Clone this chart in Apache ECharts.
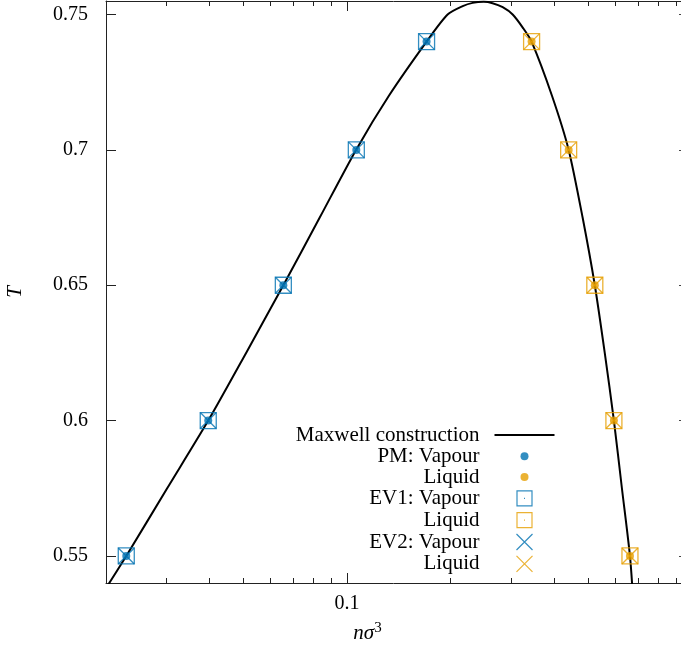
<!DOCTYPE html>
<html>
<head>
<meta charset="utf-8">
<script src="https://cdn.jsdelivr.net/npm/echarts@6/dist/echarts.min.js"></script>
<style>
  html, body { margin: 0; padding: 0; background: #fff; }
  #coexistence { width: 681px; height: 646px; }
</style>
</head>
<body>
<div id="coexistence"></div>
<script>
  // temperatures of the simulated state points
  const temps = [0.55, 0.6, 0.65, 0.7, 0.74];
  // densities n*sigma^3
  const pmVapour = [0.0229, 0.0396, 0.0654, 0.1065, 0.1703];
  const pmLiquid = [0.6627, 0.5953, 0.524, 0.44, 0.3435];
  const ev1Vapour = [0.0229, 0.0396, 0.0654, 0.1065, 0.1703];
  const ev1Liquid = [0.6627, 0.5953, 0.524, 0.44, 0.3435];
  const ev2Vapour = [0.0229, 0.0396, 0.0654, 0.1065, 0.1703];
  const ev2Liquid = [0.6627, 0.5953, 0.524, 0.44, 0.3435];

  // Maxwell construction curve
  const maxwellDensity = [0.0193, 0.0229, 0.0301, 0.0396, 0.051, 0.0654, 0.0834, 0.1063, 0.1324, 0.1703,
    0.196, 0.2168, 0.2317, 0.2494, 0.2646, 0.2832, 0.3027, 0.3245, 0.3435, 0.3936, 0.44, 0.483, 0.524,
    0.56, 0.5953, 0.628, 0.6627, 0.676];
  const maxwellT = [0.535, 0.55, 0.575, 0.6, 0.625, 0.65, 0.675, 0.7, 0.72, 0.74,
    0.75, 0.7531, 0.7543, 0.7547, 0.7542, 0.7527, 0.75, 0.745, 0.74, 0.72, 0.7, 0.675, 0.65,
    0.625, 0.6, 0.575, 0.55, 0.535];

  const xMinorTicks = [0.02, 0.03, 0.04, 0.05, 0.06, 0.07, 0.08, 0.09, 0.2, 0.3, 0.4, 0.5, 0.6, 0.7, 0.8, 0.9];
  const xMajorTicks = [0.1];
  const yTicks = [0.55, 0.6, 0.65, 0.7, 0.75];

  const blue = '#0072b2';
  const orange = '#e69f00';
  const font = 'Liberation Serif';

  const zip = (xs, ys) => xs.map((x, i) => [x, ys[i]]);

  const squarePath = 'path://M0,0H16V16H0ZM7.5,8H8.5';
  const crossPath = 'path://M0,0L16,16M16,0L0,16';
  // legend icons live in a 60x17 box (the two leading moves fix the box)
  const lineIcon = 'path://M0,0M60,17M0,8.5H60';
  const dotIcon = 'path://M0,0M60,17M26,8.5A4,4,0,1,0,34,8.5A4,4,0,1,0,26,8.5Z';
  const squareIcon = 'path://M0,0M60,17M22.5,1H37.5V16H22.5ZM29.5,8.5H30.5';
  const crossIcon = 'path://M0,0M60,17M22,0.5L38,16.5M38,0.5L22,16.5';

  const xBase = {
    type: 'log',
    logBase: 10,
    min: 0.02,
    max: 0.932,
    axisLine: { lineStyle: { color: '#222', width: 1 } },
    splitLine: { show: false }
  };

  function tickFmt(v) {
    return String(+(+v).toFixed(2));
  }

  const chart = echarts.init(document.getElementById('coexistence'));
  const option = {
    animation: false,
    backgroundColor: '#fff',
    grid: { left: 106, right: 0, top: 1, bottom: 63, containLabel: false, outerBoundsMode: 'none' },
    legend: {
      orient: 'vertical',
      align: 'right',
      right: 124,
      top: 424,
      padding: 0,
      itemWidth: 60,
      itemHeight: 17,
      itemGap: -0.2,
      selectedMode: false,
      textStyle: {
        fontFamily: font, fontSize: 21, lineHeight: 21, color: '#000', padding: [0, 10, 0, 0]
      },
      formatter: name => (name.indexOf('Liquid') >= 0 ? 'Liquid' : name),
      data: [
        { name: 'Maxwell construction', icon: lineIcon, itemStyle: { color: 'none', borderColor: '#000', borderWidth: 2 } },
        { name: 'PM: Vapour', icon: dotIcon, itemStyle: { borderWidth: 0 } },
        { name: 'PM: Liquid', icon: dotIcon, itemStyle: { borderWidth: 0 } },
        { name: 'EV1: Vapour', icon: squareIcon, itemStyle: { borderWidth: 1.2 } },
        { name: 'EV1: Liquid', icon: squareIcon, itemStyle: { borderWidth: 1.2 } },
        { name: 'EV2: Vapour', icon: crossIcon, itemStyle: { borderWidth: 1.2 } },
        { name: 'EV2: Liquid', icon: crossIcon, itemStyle: { borderWidth: 1.2 } }
      ]
    },
    xAxis: [
      Object.assign({}, xBase, {
        position: 'bottom',
        name: '{i|nσ}{s|3}',
        nameLocation: 'middle',
        nameGap: 38,
        nameTextStyle: {
          padding: [0, 52, 0, 0],
          rich: {
            i: { fontFamily: font, fontStyle: 'italic', fontSize: 21, color: '#000' },
            s: { fontFamily: font, fontSize: 15, color: '#000', verticalAlign: 'top', padding: [0, 0, 10, 0] }
          }
        },
        axisTick: { inside: true, length: 5, customValues: xMinorTicks, lineStyle: { color: '#222' } },
        axisLabel: { show: false }
      }),
      Object.assign({}, xBase, {
        position: 'bottom',
        axisLine: { show: false },
        axisTick: { inside: true, length: 10, customValues: xMajorTicks, lineStyle: { color: '#222' } },
        axisLabel: {
          customValues: xMajorTicks, margin: 11, formatter: tickFmt,
          fontFamily: font, fontSize: 20, color: '#000'
        }
      }),
      Object.assign({}, xBase, {
        position: 'top',
        axisTick: { inside: true, length: 5, customValues: xMinorTicks, lineStyle: { color: '#222' } },
        axisLabel: { show: false }
      }),
      Object.assign({}, xBase, {
        position: 'top',
        axisLine: { show: false },
        axisTick: { inside: true, length: 10, customValues: xMajorTicks, lineStyle: { color: '#222' } },
        axisLabel: { show: false }
      })
    ],
    yAxis: [
      {
        type: 'value',
        min: 0.54,
        max: 0.755,
        position: 'left',
        name: 'T',
        nameLocation: 'middle',
        nameGap: 80,
        nameRotate: 90,
        nameTextStyle: { fontFamily: font, fontStyle: 'italic', fontSize: 21, color: '#000' },
        axisLine: { show: true, lineStyle: { color: '#222', width: 1 } },
        axisTick: { show: true, inside: true, length: 10, customValues: yTicks, lineStyle: { color: '#222' } },
        axisLabel: {
          customValues: yTicks, margin: 18, formatter: tickFmt,
          fontFamily: font, fontSize: 20, color: '#000'
        },
        splitLine: { show: false }
      },
      {
        type: 'value',
        min: 0.54,
        max: 0.755,
        position: 'right',
        axisLine: { show: false },
        axisTick: { show: true, inside: true, length: 2, customValues: yTicks, lineStyle: { color: '#444' } },
        axisLabel: { show: false },
        splitLine: { show: false }
      }
    ],
    series: [
      {
        name: 'Maxwell construction',
        type: 'line',
        data: zip(maxwellDensity, maxwellT),
        smooth: 0.25,
        showSymbol: false,
        symbol: 'none',
        clip: true,
        lineStyle: { color: '#000', width: 2 },
        itemStyle: { color: '#000' },
        z: 1
      },
      {
        name: 'PM: Vapour', type: 'scatter', data: zip(pmVapour, temps),
        symbol: 'circle', symbolSize: 8, itemStyle: { color: blue }, z: 3
      },
      {
        name: 'PM: Liquid', type: 'scatter', data: zip(pmLiquid, temps),
        symbol: 'circle', symbolSize: 8, itemStyle: { color: orange }, z: 3
      },
      {
        name: 'EV1: Vapour', type: 'scatter', data: zip(ev1Vapour, temps),
        symbol: squarePath, symbolSize: 16,
        itemStyle: { color: 'none', borderColor: blue, borderWidth: 1.3 }, z: 4
      },
      {
        name: 'EV1: Liquid', type: 'scatter', data: zip(ev1Liquid, temps),
        symbol: squarePath, symbolSize: 16,
        itemStyle: { color: 'none', borderColor: orange, borderWidth: 1.3 }, z: 4
      },
      {
        name: 'EV2: Vapour', type: 'scatter', data: zip(ev2Vapour, temps),
        symbol: crossPath, symbolSize: 16,
        itemStyle: { color: 'none', borderColor: blue, borderWidth: 1.3 }, z: 4
      },
      {
        name: 'EV2: Liquid', type: 'scatter', data: zip(ev2Liquid, temps),
        symbol: crossPath, symbolSize: 16,
        itemStyle: { color: 'none', borderColor: orange, borderWidth: 1.3 }, z: 4
      }
    ]
  };
  chart.setOption(option);
</script>
</body>
</html>
